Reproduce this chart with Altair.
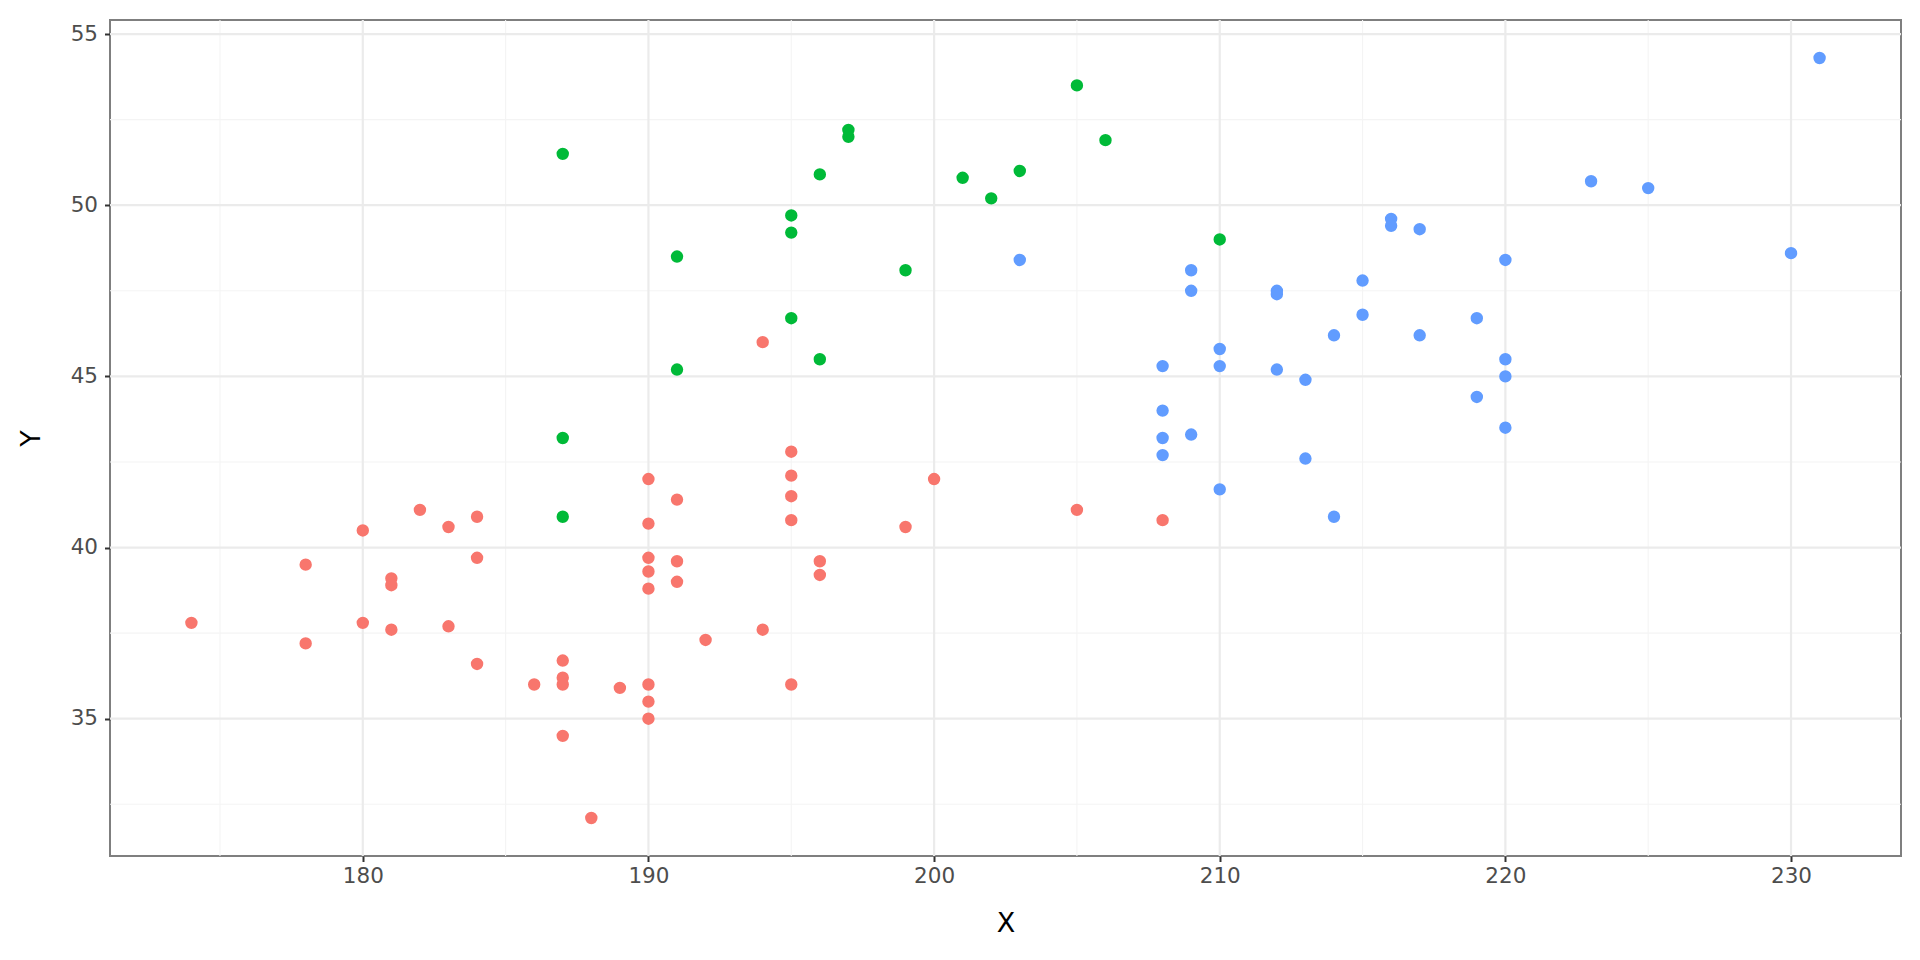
import altair as alt
import pandas as pd

# Adelie (red)
adelie_x = [174, 178, 178, 180, 180, 181, 181, 181, 182, 183, 183, 184, 184, 184, 186,
            187, 187, 187, 187, 188, 189, 190, 190, 190, 190, 190, 190, 190, 190, 191,
            191, 191, 192, 194, 194, 195, 195, 195, 195, 195, 196, 196, 199, 200, 205, 208]
adelie_y = [37.8, 39.5, 37.2, 40.5, 37.8, 39.1, 38.9, 37.6, 41.1, 40.6, 37.7, 40.9, 39.7, 36.6, 36.0,
            36.7, 36.2, 36.0, 34.5, 32.1, 35.9, 42.0, 40.7, 39.7, 39.3, 38.8, 36.0, 35.5, 35.0, 41.4,
            39.6, 39.0, 37.3, 46.0, 37.6, 42.8, 42.1, 41.5, 40.8, 36.0, 39.6, 39.2, 40.6, 42.0, 41.1, 40.8]

# Chinstrap (green)
chinstrap_x = [187, 187, 187, 191, 191, 195, 195, 195, 196, 196, 197, 197, 199, 201, 202,
               203, 205, 206, 210]
chinstrap_y = [51.5, 43.2, 40.9, 48.5, 45.2, 49.7, 49.2, 46.7, 50.9, 45.5, 52.2, 52.0, 48.1, 50.8, 50.2,
               51.0, 53.5, 51.9, 49.0]

# Gentoo (blue)
gentoo_x = [203, 208, 208, 208, 208, 209, 209, 209, 210, 210, 210, 212, 212, 212, 213, 213,
            214, 214, 215, 215, 216, 216, 217, 217, 219, 219, 220, 220, 220, 220, 223, 225, 230, 231]
gentoo_y = [48.4, 45.3, 44.0, 43.2, 42.7, 48.1, 47.5, 43.3, 45.8, 45.3, 41.7, 47.5, 47.4, 45.2, 44.9, 42.6,
            46.2, 40.9, 47.8, 46.8, 49.6, 49.4, 49.3, 46.2, 46.7, 44.4, 48.4, 45.5, 45.0, 43.5, 50.7, 50.5, 48.6, 54.3]

species = ["Adelie", "Chinstrap", "Gentoo"]
colors = ["#F8766D", "#00BA38", "#619CFF"]

x_major = [180, 190, 200, 210, 220, 230]
x_minor = [175, 185, 195, 205, 215, 225]
y_major = [35, 40, 45, 50, 55]
y_minor = [32.5, 37.5, 42.5, 47.5, 52.5]

df = pd.DataFrame({
    "X": adelie_x + chinstrap_x + gentoo_x,
    "Y": adelie_y + chinstrap_y + gentoo_y,
    "species": ["Adelie"] * len(adelie_x) + ["Chinstrap"] * len(chinstrap_x) + ["Gentoo"] * len(gentoo_x),
})

xs = alt.Scale(domain=[171.15, 233.85], nice=False, zero=False)
ys = alt.Scale(domain=[30.99, 55.41], nice=False, zero=False)

W, H = 1791, 836

xaxis = alt.Axis(values=x_major, format="d", grid=False, titleX=W / 2, titleY=67,
                 titleBaseline="middle")
yaxis = alt.Axis(values=y_major, format="d", grid=False, titleX=-78.5, titleY=H / 2,
                 titleBaseline="middle")

vminor = alt.Chart(pd.DataFrame({"v": x_minor})).mark_rule(color="#F4F4F4", strokeWidth=1.1).encode(
    x=alt.X("v:Q", scale=xs, title="X", axis=xaxis))
hminor = alt.Chart(pd.DataFrame({"v": y_minor})).mark_rule(color="#F4F4F4", strokeWidth=1.1).encode(
    y=alt.Y("v:Q", scale=ys, title="Y", axis=yaxis))
vmajor = alt.Chart(pd.DataFrame({"v": x_major})).mark_rule(color="#EBEBEB", strokeWidth=2.2).encode(
    x=alt.X("v:Q", scale=xs, title="X", axis=xaxis))
hmajor = alt.Chart(pd.DataFrame({"v": y_major})).mark_rule(color="#EBEBEB", strokeWidth=2.2).encode(
    y=alt.Y("v:Q", scale=ys, title="Y", axis=yaxis))

points = alt.Chart(df).mark_circle(size=154, opacity=1).encode(
    x=alt.X("X:Q", scale=xs, title="X", axis=xaxis),
    y=alt.Y("Y:Q", scale=ys, title="Y", axis=yaxis),
    color=alt.Color("species:N", scale=alt.Scale(domain=species, range=colors), legend=None),
)

chart = alt.layer(hminor, vminor, hmajor, vmajor, points).properties(
    width=W, height=H,
    autosize=alt.AutoSizeParams(type="none"),
    padding={"left": 102, "top": 12, "right": 10, "bottom": 90},
    background="white",
).configure_view(
    stroke="#7F7F7F", strokeWidth=2, fill="white"
).configure_axis(
    domain=False,
    ticks=True, tickColor="#333333", tickWidth=2, tickSize=5.5,
    labelColor="#4D4D4D", labelFont="DejaVu Sans", labelFontSize=21.5,
    titleColor="#000000", titleFont="DejaVu Sans", titleFontSize=27, titleFontWeight="normal",
).configure_axisX(labelPadding=4).configure_axisY(labelPadding=7)

chart.save("out.html", embed_options={"renderer": "svg", "actions": False})
